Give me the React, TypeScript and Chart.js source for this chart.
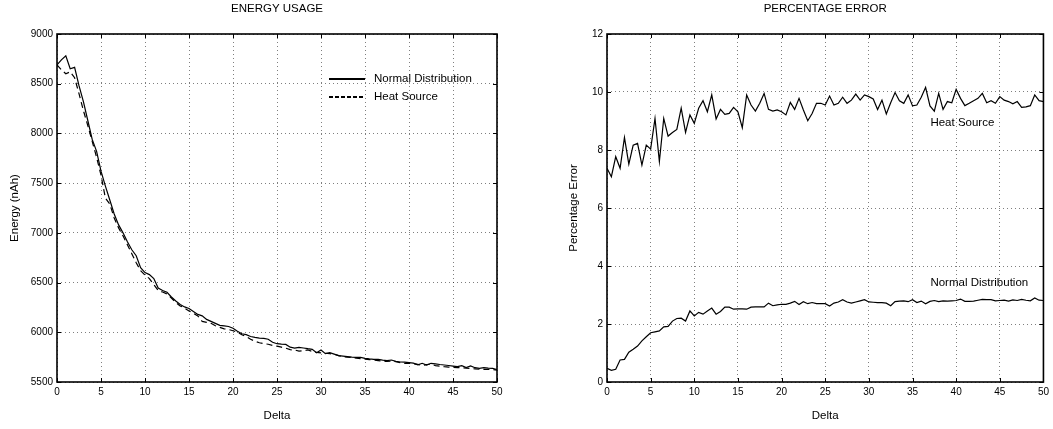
import React, { useEffect, useRef } from "react";
import { Chart, registerables } from "chart.js";

Chart.register(...registerables);

const FONT = "'Liberation Sans', Arial, Helvetica, sans-serif";

// ---------- DATA ----------
const DELTA = [
  0, 0.5, 1, 1.5, 2, 2.5, 3, 3.5, 4, 4.5, 5, 5.5, 6, 6.5, 7, 7.5, 8, 8.5, 9, 9.5,
  10, 10.5, 11, 11.5, 12, 12.5, 13, 13.5, 14, 14.5, 15, 15.5, 16, 16.5, 17, 17.5, 18, 18.5, 19, 19.5,
  20, 20.5, 21, 21.5, 22, 22.5, 23, 23.5, 24, 24.5, 25, 25.5, 26, 26.5, 27, 27.5, 28, 28.5, 29, 29.5,
  30, 30.5, 31, 31.5, 32, 32.5, 33, 33.5, 34, 34.5, 35, 35.5, 36, 36.5, 37, 37.5, 38, 38.5, 39, 39.5,
  40, 40.5, 41, 41.5, 42, 42.5, 43, 43.5, 44, 44.5, 45, 45.5, 46, 46.5, 47, 47.5, 48, 48.5, 49, 49.5,
  50,
];

// Energy usage (nAh) – Normal Distribution (solid)
const ENERGY_NORMAL = [
  8690, 8740, 8780, 8650, 8665, 8480, 8320, 8130, 7940, 7820,
  7620, 7470, 7330, 7190, 7080, 7000, 6910, 6830, 6770, 6650,
  6600, 6580, 6540, 6445, 6420, 6402, 6355, 6315, 6280, 6255,
  6240, 6210, 6180, 6165, 6130, 6110, 6090, 6070, 6065, 6058,
  6040, 6010, 5985, 5976, 5958, 5948, 5942, 5938, 5930, 5900,
  5885, 5880, 5878, 5850, 5840, 5849, 5842, 5835, 5829, 5795,
  5822, 5785, 5795, 5780, 5765, 5760, 5755, 5750, 5748, 5748,
  5738, 5732, 5728, 5728, 5720, 5715, 5721, 5708, 5701, 5700,
  5695, 5690, 5672, 5688, 5671, 5688, 5682, 5676, 5671, 5666,
  5660, 5654, 5664, 5646, 5662, 5644, 5638, 5644, 5640, 5638,
  5625,
];

// Energy usage (nAh) – Heat Source (dashed)
const ENERGY_HEAT = [
  8690, 8640, 8600, 8620, 8560, 8400, 8230, 8080, 7920, 7760,
  7580, 7350, 7290, 7150, 7050, 6970, 6880, 6790, 6700, 6620,
  6575, 6540, 6480, 6420, 6405, 6385, 6345, 6300, 6265, 6243,
  6215, 6190, 6165, 6110, 6100, 6090, 6065, 6050, 6035, 6028,
  6015, 6000, 5975, 5958, 5930, 5910, 5895, 5885, 5880, 5868,
  5860, 5850, 5840, 5825, 5822, 5810, 5815, 5822, 5808, 5798,
  5792, 5789, 5785, 5780, 5765, 5755, 5750, 5746, 5740, 5735,
  5730, 5725, 5720, 5715, 5710, 5706, 5712, 5705, 5695, 5688,
  5688, 5684, 5678, 5665, 5675, 5680, 5665, 5660, 5654, 5650,
  5648, 5645, 5642, 5640, 5636, 5632, 5628, 5627, 5627, 5625,
  5620,
];

// Percentage error – Heat Source
const ERROR_HEAT = [
  7.37, 7.08, 7.77, 7.37, 8.43, 7.51, 8.17, 8.23, 7.48, 8.17,
  8.03, 9.09, 7.6, 9.09, 8.48, 8.6, 8.71, 9.44, 8.61, 9.21,
  8.92, 9.44, 9.7, 9.32, 9.9, 9.07, 9.4, 9.23, 9.26, 9.47,
  9.32, 8.77, 9.9, 9.55, 9.34, 9.61, 9.95, 9.4, 9.34, 9.38,
  9.32, 9.21, 9.64, 9.4, 9.78, 9.38, 9.01, 9.26, 9.61, 9.61,
  9.55, 9.86, 9.55, 9.61, 9.82, 9.61, 9.72, 9.93, 9.72, 9.9,
  9.84, 9.76, 9.4, 9.72, 9.24, 9.63, 9.98, 9.7, 9.61, 9.9,
  9.52, 9.55, 9.82, 10.16, 9.52, 9.34, 9.95, 9.4, 9.67, 9.63,
  10.09, 9.78, 9.53, 9.61, 9.7, 9.78, 9.95, 9.63, 9.7, 9.61,
  9.84, 9.72, 9.67, 9.59, 9.67, 9.47, 9.49, 9.53, 9.9, 9.7,
  9.67,
];

// Percentage error – Normal Distribution
const ERROR_NORMAL = [
  0.47, 0.4, 0.44, 0.76, 0.78, 1.03, 1.13, 1.24, 1.42, 1.56,
  1.7, 1.73, 1.76, 1.9, 1.92, 2.1, 2.19, 2.2, 2.1, 2.45,
  2.28, 2.4, 2.34, 2.45, 2.55, 2.34, 2.43, 2.58, 2.58, 2.51,
  2.52, 2.52, 2.51, 2.58, 2.59, 2.59, 2.59, 2.72, 2.63, 2.66,
  2.68, 2.68, 2.72, 2.78, 2.67, 2.77, 2.7, 2.74, 2.7, 2.7,
  2.7, 2.62, 2.72, 2.76, 2.84, 2.76, 2.72, 2.76, 2.8, 2.84,
  2.76, 2.75, 2.74, 2.74, 2.72, 2.63, 2.77, 2.79, 2.8, 2.77,
  2.84, 2.74, 2.79, 2.7, 2.78, 2.81, 2.77, 2.8, 2.79, 2.8,
  2.81, 2.86, 2.78, 2.78, 2.79, 2.82, 2.85, 2.84, 2.84, 2.8,
  2.81, 2.82, 2.79, 2.83, 2.81, 2.85, 2.82, 2.8, 2.9, 2.82,
  2.81,
];

const LEFT_TITLE = "ENERGY USAGE";
const RIGHT_TITLE = "PERCENTAGE ERROR";
const X_TITLE = "Delta";
const LEFT_Y_TITLE = "Energy (nAh)";
const RIGHT_Y_TITLE = "Percentage Error";
const SERIES_NORMAL = "Normal Distribution";
const SERIES_HEAT = "Heat Source";

// annotation anchors (data units) for right chart labels
const HEAT_LABEL_AT = { x: 37.05, y: 8.93 };
const NORMAL_LABEL_AT = { x: 37.05, y: 3.42 };

// ---------- helpers ----------
const pts = (ys: number[]) => DELTA.map((x, i) => ({ x, y: ys[i] }));

const framePlugin = {
  id: "frameBox",
  afterDatasetsDraw(chart: any) {
    const { ctx, chartArea: a, scales } = chart;
    const tl = 4;
    ctx.save();
    ctx.strokeStyle = "#000";
    ctx.lineWidth = 1;
    ctx.setLineDash([]);
    ctx.beginPath();
    scales.x.ticks.forEach((t: any) => {
      const px = Math.round(scales.x.getPixelForValue(t.value)) + 0.5;
      ctx.moveTo(px, a.bottom);
      ctx.lineTo(px, a.bottom - tl);
      ctx.moveTo(px, a.top);
      ctx.lineTo(px, a.top + tl);
    });
    scales.y.ticks.forEach((t: any) => {
      const py = Math.round(scales.y.getPixelForValue(t.value)) + 0.5;
      ctx.moveTo(a.left, py);
      ctx.lineTo(a.left + tl, py);
      ctx.moveTo(a.right, py);
      ctx.lineTo(a.right - tl, py);
    });
    ctx.stroke();
    ctx.lineWidth = 1.6;
    ctx.strokeRect(a.left, a.top, a.right - a.left, a.bottom - a.top);
    ctx.restore();
  },
};

const leftLegendPlugin = {
  id: "leftLegend",
  afterDraw(chart: any) {
    const { ctx, chartArea: a } = chart;
    ctx.save();
    ctx.strokeStyle = "#000";
    ctx.fillStyle = "#000";
    ctx.font = `11.5px ${FONT}`;
    ctx.textBaseline = "middle";
    ctx.textAlign = "left";
    const x0 = a.left + 272;
    const x1 = a.left + 308;
    const rows = [
      { label: SERIES_NORMAL, dash: [] as number[], dy: 45 },
      { label: SERIES_HEAT, dash: [4, 2], dy: 63 },
    ];
    rows.forEach((r) => {
      const y = a.top + r.dy;
      ctx.lineWidth = 2;
      ctx.setLineDash(r.dash);
      ctx.beginPath();
      ctx.moveTo(x0, y);
      ctx.lineTo(x1, y);
      ctx.stroke();
      ctx.setLineDash([]);
      ctx.fillText(r.label, a.left + 317, y);
    });
    ctx.restore();
  },
};

const rightLabelPlugin = {
  id: "rightLabels",
  afterDraw(chart: any) {
    const { ctx, scales } = chart;
    ctx.save();
    ctx.fillStyle = "#000";
    ctx.font = `11.5px ${FONT}`;
    ctx.textBaseline = "middle";
    ctx.textAlign = "left";
    [
      { t: SERIES_HEAT, p: HEAT_LABEL_AT },
      { t: SERIES_NORMAL, p: NORMAL_LABEL_AT },
    ].forEach(({ t, p }) => {
      ctx.fillText(t, scales.x.getPixelForValue(p.x), scales.y.getPixelForValue(p.y));
    });
    ctx.restore();
  },
};

function buildOptions(p: {
  title: string;
  yTitle: string;
  yMin: number;
  yMax: number;
  yStep: number;
  yWidth: number;
  yTitlePad: number;
  rightPad: number;
}) {
  const gridCommon = {
    color: "rgba(0,0,0,0.5)",
    lineWidth: 1,
    drawTicks: false,
    tickLength: 0,
  };
  return {
    responsive: false,
    animation: false as const,
    events: [] as any[],
    layout: { padding: { left: 0, right: p.rightPad, top: 0, bottom: 0 } },
    plugins: {
      legend: { display: false },
      tooltip: { enabled: false },
      title: {
        display: true,
        text: p.title,
        fullSize: false,
        color: "#000",
        font: { family: FONT, size: 11.5, weight: "normal" as const, lineHeight: 1.2 },
        padding: { top: 2, bottom: 18.2 },
      },
    },
    scales: {
      x: {
        type: "linear" as const,
        min: 0,
        max: 50,
        grid: gridCommon,
        border: { display: false, dash: [1, 3] },
        ticks: {
          stepSize: 5,
          padding: 4,
          autoSkip: false,
          maxRotation: 0,
          color: "#000",
          font: { family: FONT, size: 10 },
          callback: (v: any) => String(v),
        },
        title: {
          display: true,
          text: X_TITLE,
          color: "#000",
          font: { family: FONT, size: 11.5, lineHeight: 1.2 },
          padding: { top: 0, bottom: 6 },
        },
        afterFit: (s: any) => {
          s.height = 47;
        },
      },
      y: {
        type: "linear" as const,
        min: p.yMin,
        max: p.yMax,
        grid: gridCommon,
        border: { display: false, dash: [1, 3] },
        ticks: {
          stepSize: p.yStep,
          padding: 4,
          autoSkip: false,
          color: "#000",
          font: { family: FONT, size: 10 },
          callback: (v: any) => String(v),
        },
        title: {
          display: true,
          text: p.yTitle,
          color: "#000",
          font: { family: FONT, size: 11.5, lineHeight: 1.2 },
          padding: { top: p.yTitlePad, bottom: 0 },
        },
        afterFit: (s: any) => {
          s.width = p.yWidth;
        },
      },
    },
  };
}

function useChart(ref: React.RefObject<HTMLCanvasElement>, make: () => any) {
  useEffect(() => {
    if (!ref.current) return;
    const chart = new Chart(ref.current, make());
    return () => chart.destroy();
  }, []);
}

export default function App() {
  const leftRef = useRef<HTMLCanvasElement>(null);
  const rightRef = useRef<HTMLCanvasElement>(null);

  useChart(leftRef, () => ({
    type: "line",
    data: {
      datasets: [
        {
          label: SERIES_NORMAL,
          data: pts(ENERGY_NORMAL),
          borderColor: "#000",
          borderWidth: 1.2,
          pointRadius: 0,
          tension: 0,
          fill: false,
        },
        {
          label: SERIES_HEAT,
          data: pts(ENERGY_HEAT),
          borderColor: "#000",
          borderWidth: 1.2,
          borderDash: [6, 4],
          pointRadius: 0,
          tension: 0,
          fill: false,
        },
      ],
    },
    options: buildOptions({
      title: LEFT_TITLE,
      yTitle: LEFT_Y_TITLE,
      yMin: 5500,
      yMax: 9000,
      yStep: 500,
      yWidth: 57,
      yTitlePad: 8.4,
      rightPad: 29,
    }),
    plugins: [framePlugin, leftLegendPlugin],
  }));

  useChart(rightRef, () => ({
    type: "line",
    data: {
      datasets: [
        {
          label: SERIES_HEAT,
          data: pts(ERROR_HEAT),
          borderColor: "#000",
          borderWidth: 1.2,
          pointRadius: 0,
          tension: 0,
          fill: false,
        },
        {
          label: SERIES_NORMAL,
          data: pts(ERROR_NORMAL),
          borderColor: "#000",
          borderWidth: 1.2,
          pointRadius: 0,
          tension: 0,
          fill: false,
        },
      ],
    },
    options: buildOptions({
      title: RIGHT_TITLE,
      yTitle: RIGHT_Y_TITLE,
      yMin: 0,
      yMax: 12,
      yStep: 2,
      yWidth: 81,
      yTitlePad: 40.6,
      rightPad: 6,
    }),
    plugins: [framePlugin, rightLabelPlugin],
  }));

  return (
    <div
      style={{
        position: "absolute",
        left: 0,
        top: 0,
        width: 1053,
        height: 429,
        background: "#fff",
        overflow: "hidden",
      }}
    >
      <canvas
        ref={leftRef}
        width={526}
        height={429}
        style={{ position: "absolute", left: 0, top: 0, width: 526, height: 429, display: "block" }}
      />
      <canvas
        ref={rightRef}
        width={527}
        height={429}
        style={{ position: "absolute", left: 526, top: 0, width: 527, height: 429, display: "block" }}
      />
    </div>
  );
}
